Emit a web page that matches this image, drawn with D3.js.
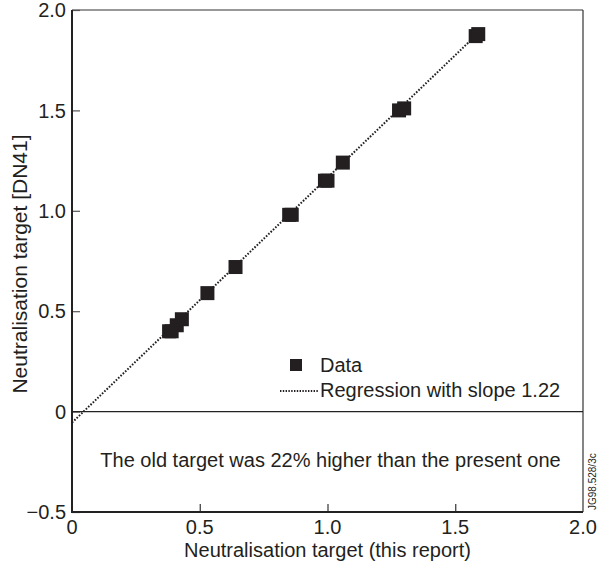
<!DOCTYPE html>
<html>
<head>
<meta charset="utf-8">
<script src="https://cdn.jsdelivr.net/npm/d3@7"></script>
<style>
  body { margin: 0; background: #fff; }
  svg { display: block; font-family: "Liberation Sans", Arial, sans-serif; }
</style>
</head>
<body>
<div id="chart"></div>
<script>
// Données
const xValues = [0.38, 0.39, 0.41, 0.43, 0.53, 0.64, 0.85, 0.86, 0.99, 1.00, 1.06, 1.28, 1.30, 1.58, 1.59]
const yValues = [0.40, 0.40, 0.43, 0.46, 0.59, 0.72, 0.98, 0.98, 1.15, 1.15, 1.24, 1.50, 1.51, 1.87, 1.88]
const xTicks = [0, 0.5, 1.0, 1.5, 2.0]
const yTicks = [-0.5, 0, 0.5, 1.0, 1.5, 2.0]
const slope = 1.22
const intercept = -0.055
const regRange = [0, 1.59]

const W = 598, H = 569
const margin = { top: 10, right: 15, bottom: 57, left: 72 }
const ink = "#231f20"
const FS = 20

const svg = d3.select("#chart").append("svg")
  .attr("width", W).attr("height", H)

const x = d3.scaleLinear().domain([0, 2]).range([margin.left, W - margin.right])
const y = d3.scaleLinear().domain([-0.5, 2]).range([H - margin.bottom, margin.top])

const fmt = d => d === 0 ? "0" : (d < 0 ? "\u22120.5" : d.toFixed(1))

// Cadre : haut et droite fins, gauche et bas plus épais
svg.append("line")
  .attr("x1", x(0)).attr("x2", x(2)).attr("y1", y(2)).attr("y2", y(2))
  .attr("stroke", "#333").attr("stroke-width", 1.2)
svg.append("line")
  .attr("x1", x(2)).attr("x2", x(2)).attr("y1", y(2)).attr("y2", y(-0.5))
  .attr("stroke", "#333").attr("stroke-width", 1.2)

// Axe Y (ticks vers l'intérieur)
svg.append("g")
  .attr("transform", `translate(${x(0)},0)`)
  .call(d3.axisRight(y).tickValues(yTicks).tickSize(8).tickFormat(""))
  .call(g => g.select(".domain").remove())
  .call(g => g.selectAll(".tick line").attr("stroke", "#555").attr("stroke-width", 1.2))

svg.append("line")
  .attr("x1", x(0)).attr("x2", x(0)).attr("y1", y(2)).attr("y2", y(-0.5) + 1)
  .attr("stroke", "#222").attr("stroke-width", 2)

svg.selectAll("text.ylab")
  .data(yTicks)
  .join("text")
  .attr("class", "ylab")
  .attr("x", x(0) - 6)
  .attr("y", d => y(d))
  .attr("dy", "0.36em")
  .attr("text-anchor", "end")
  .attr("font-size", FS)
  .attr("fill", ink)
  .text(fmt)

// Axe X (ticks vers le haut)
svg.append("g")
  .attr("transform", `translate(0,${y(-0.5)})`)
  .call(d3.axisTop(x).tickValues(xTicks.filter(d => d > 0 && d < 2)).tickSize(8).tickFormat(""))
  .call(g => g.select(".domain").remove())
  .call(g => g.selectAll(".tick line").attr("stroke", "#333").attr("stroke-width", 1.2))

svg.append("line")
  .attr("x1", x(0) - 1).attr("x2", x(2)).attr("y1", y(-0.5)).attr("y2", y(-0.5))
  .attr("stroke", "#222").attr("stroke-width", 2)

svg.selectAll("text.xlab")
  .data(xTicks)
  .join("text")
  .attr("class", "xlab")
  .attr("x", d => x(d))
  .attr("y", y(-0.5) + 22)
  .attr("text-anchor", "middle")
  .attr("font-size", FS)
  .attr("fill", ink)
  .text(fmt)

// Ligne y = 0
svg.append("line")
  .attr("x1", x(0)).attr("x2", x(2)).attr("y1", y(0)).attr("y2", y(0))
  .attr("stroke", "#222").attr("stroke-width", 1.2)

// Droite de régression en pointillés
const reg = d3.line().x(d => x(d)).y(d => y(slope * d + intercept))
svg.append("path")
  .attr("d", reg(regRange))
  .attr("fill", "none")
  .attr("stroke", ink)
  .attr("stroke-width", 2)
  .attr("stroke-dasharray", "1.6,1.6")

// Points
const S = 14
svg.selectAll("rect.pt")
  .data(xValues.map((v, i) => [v, yValues[i]]))
  .join("rect")
  .attr("class", "pt")
  .attr("x", d => x(d[0]) - S / 2)
  .attr("y", d => y(d[1]) - S / 2)
  .attr("width", S).attr("height", S)
  .attr("fill", ink)

// Légende
svg.append("rect")
  .attr("x", 290).attr("y", 359).attr("width", 12).attr("height", 12)
  .attr("fill", ink)
svg.append("text")
  .attr("x", 320).attr("y", 372)
  .attr("font-size", FS).attr("fill", ink)
  .text("Data")
svg.append("line")
  .attr("x1", 280).attr("x2", 318).attr("y1", 391).attr("y2", 391)
  .attr("stroke", ink).attr("stroke-width", 1.8)
  .attr("stroke-dasharray", "1.4,1.4")
svg.append("text")
  .attr("x", 320).attr("y", 397)
  .attr("font-size", FS).attr("fill", ink)
  .text("Regression with slope 1.22")

// Annotation
svg.append("text")
  .attr("x", (x(0) + x(2)) / 2 + 3).attr("y", 467)
  .attr("text-anchor", "middle")
  .attr("font-size", FS).attr("fill", ink)
  .text("The old target was 22% higher than the present one")

// Titres d'axes
svg.append("text")
  .attr("x", (x(0) + x(2)) / 2).attr("y", 557)
  .attr("text-anchor", "middle")
  .attr("font-size", FS).attr("fill", ink)
  .text("Neutralisation target (this report)")

svg.append("text")
  .attr("transform", `translate(27,${y(0.75) + 3}) rotate(-90)`)
  .attr("text-anchor", "middle")
  .attr("font-size", 21).attr("fill", ink)
  .text("Neutralisation target [DN41]")

// Référence
svg.append("text")
  .attr("transform", `translate(596,${y(-0.5) - 2}) rotate(-90)`)
  .attr("font-size", 10).attr("fill", ink)
  .text("JG98.528/3c")
</script>
</body>
</html>
